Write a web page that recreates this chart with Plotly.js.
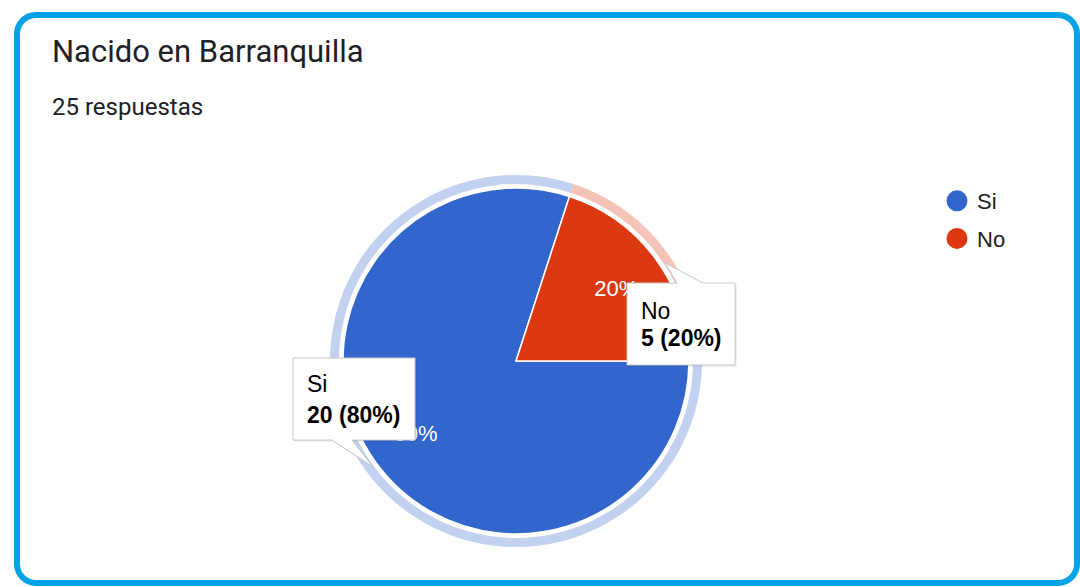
<!DOCTYPE html>
<html>
<head>
<meta charset="utf-8">
<script src="https://cdn.plot.ly/plotly-3.0.1.min.js"></script>
<style>
  html, body { margin: 0; padding: 0; background: #ffffff; }
  #wrap { position: relative; width: 1080px; height: 587px; overflow: hidden; }
  #chart { position: absolute; left: 0; top: 0; width: 1080px; height: 587px; }
  #frame { position: absolute; left: 14px; top: 12px; width: 1066px; height: 574px;
           box-sizing: border-box; border: 6px solid #03a1e6; border-radius: 22px;
           pointer-events: none; }
</style>
</head>
<body>
<div id="wrap">
  <div id="chart"></div>
  <div id="frame"></div>
</div>
<script>
// ---- data ----
const questionTitle = 'Nacido en Barranquilla';
const responsesWord = 'respuestas';
const labels = ['Si', 'No'];
const counts = [20, 5];
const sliceColors = ['#3366cc', '#dc3912'];
const ringColors = ['#c2d1f0', '#f5c4b8'];

// ---- layout helpers (pixels -> paper) ----
const W = 1080, H = 587;
const fx = p => p / W;
const fy = p => 1 - p / H;
const CX = 516, CY = 361, R = 173, RING_OUT = 186, RING_IN = 177;
const LABEL_HOLE = 0.434;   // places the percent labels at ~72% of the radius

const total = counts.reduce((a, b) => a + b, 0);
const pct = counts.map(c => Math.round(100 * c / total));
const pieDomain = { x: [fx(CX - R), fx(CX + R)], y: [fy(CY + R), fy(CY - R)] };

const traces = [];

// hover-highlight ring
traces.push({
  type: 'pie', labels: labels, values: counts, sort: false, direction: 'clockwise', rotation: 90,
  hole: RING_IN / RING_OUT, textinfo: 'none', hoverinfo: 'skip', showlegend: false,
  marker: { colors: ringColors, line: { color: '#ffffff', width: 0 } },
  domain: { x: [fx(CX - RING_OUT), fx(CX + RING_OUT)], y: [fy(CY + RING_OUT), fy(CY - RING_OUT)] }
});

// main pie
traces.push({
  type: 'pie', labels: labels, values: counts, sort: false, direction: 'clockwise', rotation: 90,
  textinfo: 'none', hoverinfo: 'label+value+percent', showlegend: false,
  marker: { colors: sliceColors, line: { color: '#ffffff', width: 1.5 } },
  domain: pieDomain
});

// percent labels (same slices, transparent fill)
traces.push({
  type: 'pie', labels: labels, values: counts, sort: false, direction: 'clockwise', rotation: 90,
  hole: LABEL_HOLE, texttemplate: '%{percent:.0%}', textposition: 'inside', insidetextorientation: 'horizontal',
  insidetextfont: { family: 'Arial, Liberation Sans, sans-serif', size: 22, color: '#ffffff' },
  hoverinfo: 'skip', showlegend: false,
  marker: { colors: ['rgba(0,0,0,0)', 'rgba(0,0,0,0)'], line: { width: 0 } },
  domain: pieDomain
});

// legend entries (circle markers)
labels.forEach((lab, i) => {
  traces.push({
    type: 'scatter', mode: 'markers', x: [null], y: [null], name: lab,
    legendgroup: 'g' + i, hoverinfo: 'skip',
    marker: { symbol: 'circle', color: sliceColors[i], size: 16, line: { color: sliceColors[i], width: 5 } }
  });
});

// tooltips (decorative callouts)
const tips = [
  { idx: 0, box: [293, 358, 415, 440], tail: 'bottom', base: [332, 352], apex: [373, 467], tx: 307, y1: 383.5, y2: 415 },
  { idx: 1, box: [627, 283, 735, 365], tail: 'top', base: [677, 703], apex: [665, 263], tx: 641, y1: 310.5, y2: 338.5 }
];
function tipPath(t, dx, dy) {
  const [x0, y0, x1, y1] = t.box.map((v, k) => v + (k % 2 === 0 ? dx : dy));
  const b0 = t.base[0] + dx, b1 = t.base[1] + dx, ax = t.apex[0] + dx, ay = t.apex[1] + dy;
  const P = (x, y) => fx(x) + ',' + fy(y);
  if (t.tail === 'bottom') {
    return 'M' + P(x0, y0) + ' L' + P(x1, y0) + ' L' + P(x1, y1) + ' L' + P(b1, y1) + ' L' + P(ax, ay) +
           ' L' + P(b0, y1) + ' L' + P(x0, y1) + ' Z';
  }
  return 'M' + P(x0, y0) + ' L' + P(b0, y0) + ' L' + P(ax, ay) + ' L' + P(b1, y0) + ' L' + P(x1, y0) +
         ' L' + P(x1, y1) + ' L' + P(x0, y1) + ' Z';
}
const shapes = [];
const annotations = [];
tips.forEach(t => {
  shapes.push({ type: 'path', xref: 'paper', yref: 'paper', layer: 'above', path: tipPath(t, 1.5, 1.5),
    fillcolor: 'rgba(0,0,0,0.10)', line: { width: 0 } });
  shapes.push({ type: 'path', xref: 'paper', yref: 'paper', layer: 'above', path: tipPath(t, 0, 0),
    fillcolor: '#ffffff', line: { color: '#c8c8c8', width: 1 } });
  annotations.push({ xref: 'paper', yref: 'paper', x: fx(t.tx), y: fy(t.y1), xanchor: 'left', yanchor: 'middle',
    showarrow: false, text: labels[t.idx], borderpad: 0, borderwidth: 0,
    font: { family: 'Arial, Liberation Sans, sans-serif', size: 23, color: '#000000' } });
  annotations.push({ xref: 'paper', yref: 'paper', x: fx(t.tx), y: fy(t.y2), xanchor: 'left', yanchor: 'middle',
    showarrow: false, text: '<b>' + counts[t.idx] + ' (' + pct[t.idx] + '%)</b>', borderpad: 0, borderwidth: 0,
    font: { family: 'Arial, Liberation Sans, sans-serif', size: 23, color: '#000000' } });
});

// title + subtitle
annotations.push({ xref: 'paper', yref: 'paper', x: fx(51), y: fy(52), xanchor: 'left', yanchor: 'middle',
  showarrow: false, text: questionTitle, borderpad: 0,
  font: { family: 'Roboto, sans-serif', size: 31, color: '#202124' } });
annotations.push({ xref: 'paper', yref: 'paper', x: fx(51), y: fy(107), xanchor: 'left', yanchor: 'middle',
  showarrow: false, text: total + ' ' + responsesWord, borderpad: 0,
  font: { family: 'Roboto, sans-serif', size: 24, color: '#202124' } });

const layout = {
  width: W, height: H,
  margin: { l: 0, r: 0, t: 0, b: 0 },
  paper_bgcolor: 'rgba(0,0,0,0)', plot_bgcolor: 'rgba(0,0,0,0)',
  xaxis: { visible: false, domain: [0, 1] },
  yaxis: { visible: false, domain: [0, 1] },
  showlegend: true,
  legend: { x: fx(937), xanchor: 'left', y: fy(180), yanchor: 'top', bgcolor: 'rgba(0,0,0,0)',
    font: { family: 'Arial, Liberation Sans, sans-serif', size: 22, color: '#222222' },
    tracegroupgap: 6, itemclick: false, itemdoubleclick: false },
  shapes: shapes,
  annotations: annotations
};

Plotly.newPlot('chart', traces, layout, { displayModeBar: false, staticPlot: false });
</script>
</body>
</html>
